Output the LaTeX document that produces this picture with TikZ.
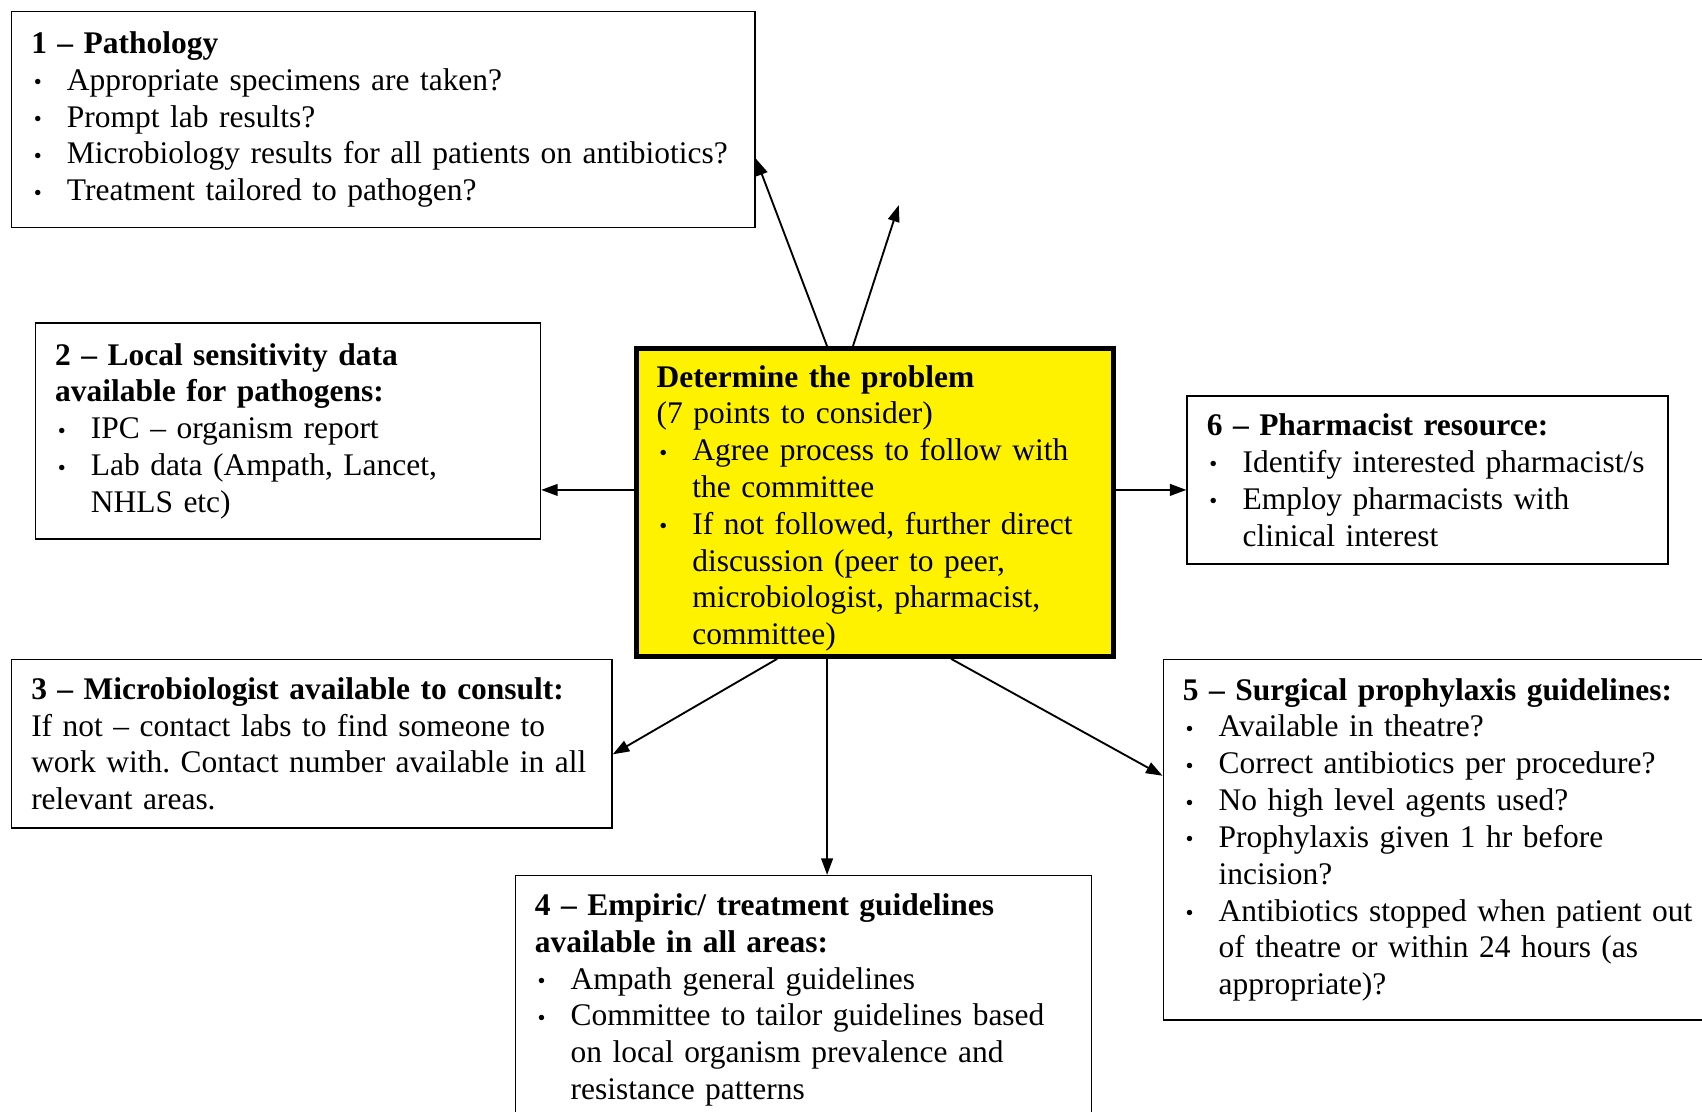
\documentclass[tikz,border=0pt]{standalone}
\usepackage{fontspec}
\setmainfont{Liberation Serif}
\usetikzlibrary{arrows.meta}

\newcommand{\bitem}[1]{\par\hangindent=13.4pt\hangafter=1\noindent
  \makebox[13.4pt][l]{\hspace{1pt}\raisebox{0.2pt}{\fontsize{8.5}{8.5}\selectfont\textbullet}}#1\par}

\begin{document}
\frenchspacing\hyphenpenalty=10000
\begin{tikzpicture}[x=0.407pt, y=-0.407pt,
  panel/.style={draw, line width=0.6pt, anchor=north west, inner xsep=7.3pt,
    inner ysep=3pt, align=left, font=\fontsize{11.8}{13.8}\selectfont},
  hub/.style={panel, fill=yellow, line width=1.9pt, inner xsep=7.6pt, inner ysep=1pt},
  link/.style={-{Triangle[length=6.2pt,width=4.4pt]}, line width=0.7pt}]
\useasboundingbox (0,0) rectangle (1568,1024);
\clip (0,0) rectangle (1568,1024);

\node[hub, minimum width=178.8pt, minimum height=115.3pt, text width=163.6pt, text height=12.5pt] (problem) at (584,319)
  {\textbf{Determine the problem}\par(7 points to consider)
   \bitem{Agree process to follow with\newline the committee}
   \bitem{If not followed, further direct\newline discussion (peer to peer,\newline microbiologist, pharmacist,\newline committee)}};

\node[panel, minimum width=278.8pt, minimum height=81pt, text width=264.1pt] (pathology) at (10,10)
  {\textbf{1 -- Pathology}
   \bitem{Appropriate specimens are taken?}
   \bitem{Prompt lab results?}
   \bitem{Microbiology results for all patients on antibiotics?}
   \bitem{Treatment tailored to pathogen?}};

\node[panel, minimum width=189.3pt, minimum height=81pt, text width=174.6pt] (sensitivity) at (32,297)
  {\textbf{2 -- Local sensitivity data}\\\textbf{available for pathogens:}
   \bitem{IPC -- organism report}
   \bitem{Lab data (Ampath, Lancet,\newline NHLS etc)}};

\node[panel, minimum width=225.1pt, minimum height=63.1pt, text width=210.4pt] (consult) at (10,607)
  {\textbf{3 -- Microbiologist available to consult:}\\If not -- contact labs to find someone to\\work with. Contact number available in all\\relevant areas.};

\node[panel, minimum width=216.1pt, minimum height=93.2pt, text width=201.4pt] (empiric) at (474,806)
  {\textbf{4 -- Empiric/ treatment guidelines}\\\textbf{available in all areas:}
   \bitem{Ampath general guidelines}
   \bitem{Committee to tailor guidelines based\newline on local organism prevalence and\newline resistance patterns}};

\node[panel, minimum width=207.6pt, minimum height=135.1pt, text width=192.9pt] (surgical) at (1071,607)
  {\textbf{5 -- Surgical prophylaxis guidelines:}
   \bitem{Available in theatre?}
   \bitem{Correct antibiotics per procedure?}
   \bitem{No high level agents used?}
   \bitem{Prophylaxis given 1 hr before\newline incision?}
   \bitem{Antibiotics stopped when patient out\newline of theatre or within 24 hours (as\newline appropriate)?}};

\node[panel, minimum width=180.3pt, minimum height=63.1pt, text width=165.6pt] (pharmacist) at (1093,364)
  {\textbf{6 -- Pharmacist resource:}
   \bitem{Identify interested pharmacist/s}
   \bitem{Employ pharmacists with\newline clinical interest}};

\coordinate (open) at (828,189);

\draw[link] (problem.107) -- (pathology.-6);
\draw[link] (problem.98.3) -- (open);
\draw[link] (problem.177) -- (problem.177 -| sensitivity.east);
\draw[link] (problem.3) -- (problem.3 -| pharmacist.west);
\draw[link] (problem.-122) -- (consult.-2);
\draw[link] (problem.253) -- (problem.253 |- empiric.north);
\draw[link] (problem.-64.4) -- (surgical.167.6);
\end{tikzpicture}
\end{document}
